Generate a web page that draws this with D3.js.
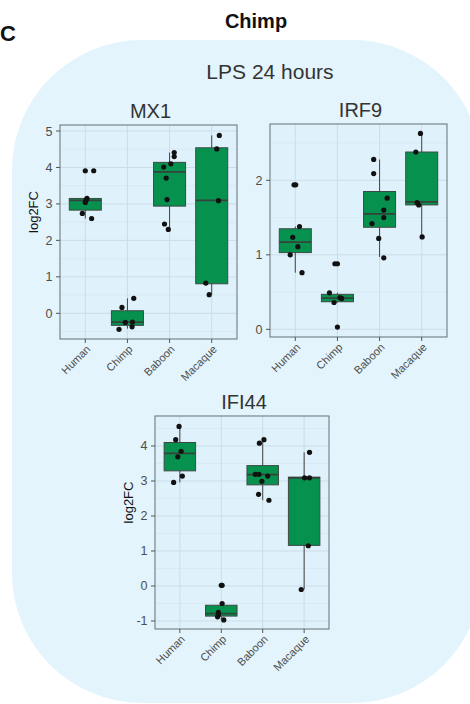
<!DOCTYPE html>
<html><head><meta charset="utf-8">
<script src="https://cdn.jsdelivr.net/npm/d3@7"></script>
<style>html,body{margin:0;padding:0;background:#fff;}svg{display:block;font-family:"Liberation Sans",Arial,sans-serif;}</style>
</head><body>
<svg id="c" width="470" height="704"></svg>
<script>
const categories = ["Human","Chimp","Baboon","Macaque"];

// MX1
const mx1Values = [
  [3.91,3.91,3.15,3.11,3.04,2.74,2.60],
  [0.16,0.41,-0.25,-0.24,-0.37,-0.44],
  [4.41,4.30,4.10,4.01,3.71,3.12,2.45,2.30],
  [4.88,4.51,3.09,0.83,0.51]
];
const mx1Jitter = [
  [0,0.2,0.04,0.02,0,-0.07,0.15],
  [-0.13,0.15,-0.05,0.12,0.11,-0.2],
  [0.11,0.11,0.03,-0.14,-0.08,-0.06,-0.12,-0.03],
  [0.18,0.12,0.16,-0.14,-0.06]
];
// [lower whisker, q1, median, q3, upper whisker]
const mx1Box = [
  [2.60,2.83,3.10,3.15,3.15],
  [-0.42,-0.33,-0.24,0.07,0.41],
  [2.30,2.94,3.88,4.14,4.41],
  [0.51,0.81,3.10,4.54,4.88]
];
const mx1Ticks = [0,1,2,3,4,5];

// IRF9
const irf9Values = [
  [1.94,1.94,1.38,1.235,1.11,1.00,0.76],
  [0.88,0.88,0.49,0.425,0.415,0.36,0.03],
  [2.28,2.09,1.76,1.60,1.50,1.42,1.22,0.96],
  [2.63,2.38,1.70,1.67,1.24]
];
const irf9Jitter = [
  [-0.03,0.01,0.1,-0.06,0.06,-0.12,0.16],
  [-0.06,0,-0.19,0.06,0.1,-0.08,0],
  [-0.14,-0.14,0.18,0.1,0.1,-0.18,-0.02,0.1],
  [-0.03,-0.14,-0.11,-0.07,0.01]
];
const irf9Box = [
  [0.76,1.03,1.17,1.35,1.38],
  [0.36,0.37,0.42,0.47,0.49],
  [0.97,1.37,1.55,1.85,2.28],
  [1.24,1.67,1.71,2.38,2.63]
];
const irf9Ticks = [0,1,2];

// IFI44
const ifi44Values = [
  [4.56,4.18,3.85,3.69,3.14,2.96],
  [0.02,0.02,-0.50,-0.75,-0.82,-0.88,-0.97],
  [4.08,4.18,3.19,3.19,3.14,2.99,2.62,2.45],
  [3.82,3.09,3.09,1.15,-0.10]
];
const ifi44Jitter = [
  [-0.02,-0.1,0.03,-0.05,0.06,-0.15],
  [0,0.02,0.02,-0.07,-0.07,-0.09,0.06],
  [-0.08,0.03,-0.18,-0.09,0.12,-0.02,-0.1,0.15],
  [0.13,0.01,0.13,0.1,-0.07]
];
const ifi44Box = [
  [2.96,3.29,3.79,4.10,4.56],
  [-0.97,-0.86,-0.79,-0.55,-0.50],
  [2.45,2.89,3.18,3.44,4.18],
  [-0.10,1.16,3.09,3.11,3.82]
];
const ifi44Ticks = [-1,0,1,2,3,4];

const svg = d3.select("#c");

// background rounded shape
svg.append("rect").attr("x",12).attr("y",40).attr("width",470).attr("height",663)
  .attr("rx",130).attr("ry",130).attr("fill","#e3f4fc");

svg.append("text").attr("x",0).attr("y",41).attr("font-size",22).attr("font-weight","bold").attr("fill","#111").text("C");
svg.append("text").attr("x",256).attr("y",28).attr("text-anchor","middle").attr("font-size",20).attr("font-weight","bold").attr("fill","#111").text("Chimp");
svg.append("text").attr("x",270).attr("y",79).attr("text-anchor","middle").attr("font-size",21).attr("fill","#333").text("LPS 24 hours");

function panel(o){
  const {x0,x1,y0,y1,domain,ticks,values,jitter,box,title,ylab} = o;
  const g = svg.append("g");
  const x = d3.scalePoint().domain(categories).range([x0,x1]).padding(0.6);
  const y = d3.scaleLinear().domain(domain).range([y1,y0]);
  const step = x.step();
  g.append("rect").attr("x",x0).attr("y",y0).attr("width",x1-x0).attr("height",y1-y0).attr("fill","#dff1fb");
  // minor grid
  const minor = d3.range(Math.ceil(domain[0]*2)/2, domain[1], 0.5).filter(v=>Math.abs(v-Math.round(v))>0.01);
  g.selectAll(".mn").data(minor).join("line").attr("x1",x0).attr("x2",x1)
    .attr("y1",d=>y(d)).attr("y2",d=>y(d)).attr("stroke","#d4e6f0").attr("stroke-width",0.6);
  g.selectAll(".mj").data(ticks).join("line").attr("x1",x0).attr("x2",x1)
    .attr("y1",d=>y(d)).attr("y2",d=>y(d)).attr("stroke","#cbdde8").attr("stroke-width",1);
  g.selectAll(".vg").data(categories).join("line").attr("y1",y0).attr("y2",y1)
    .attr("x1",d=>x(d)).attr("x2",d=>x(d)).attr("stroke","#cbdde8").attr("stroke-width",1);
  const bw = step*0.76;
  categories.forEach((c,i)=>{
    const b = box[i], cx = x(c);
    g.append("line").attr("x1",cx).attr("x2",cx).attr("y1",y(b[0])).attr("y2",y(b[4])).attr("stroke","#444").attr("stroke-width",1);
    g.append("rect").attr("x",cx-bw/2).attr("width",bw).attr("y",y(b[3])).attr("height",y(b[1])-y(b[3]))
      .attr("fill","#06914f").attr("stroke","#3d4a44").attr("stroke-width",1);
    g.append("line").attr("x1",cx-bw/2).attr("x2",cx+bw/2).attr("y1",y(b[2])).attr("y2",y(b[2])).attr("stroke","#34443c").attr("stroke-width",1.8);
    values[i].forEach((v,j)=>{
      g.append("circle").attr("cx",cx+jitter[i][j]*step).attr("cy",y(v)).attr("r",2.6).attr("fill","#111");
    });
  });
  g.append("rect").attr("x",x0).attr("y",y0).attr("width",x1-x0).attr("height",y1-y0).attr("fill","none").attr("stroke","#6f7a80").attr("stroke-width",1.1);
  // y axis
  ticks.forEach(t=>{
    g.append("line").attr("x1",x0-4).attr("x2",x0).attr("y1",y(t)).attr("y2",y(t)).attr("stroke","#555");
    g.append("text").attr("x",x0-7.5).attr("y",y(t)).attr("dy","0.36em").attr("text-anchor","end")
      .attr("font-size",12.5).attr("fill","#4d4d4d").text(t);
  });
  categories.forEach(c=>{
    g.append("line").attr("x1",x(c)).attr("x2",x(c)).attr("y1",y1).attr("y2",y1+4).attr("stroke","#555");
    g.append("text").attr("transform",`translate(${x(c)},${y1+5}) rotate(-45)`).attr("text-anchor","end")
      .attr("dy","0.75em").attr("font-size",11).attr("fill","#4d4d4d").text(c);
  });
  g.append("text").attr("x",(x0+x1)/2+2).attr("y",y0-7).attr("text-anchor","middle").attr("font-size",20).attr("fill","#333").text(title);
  if(ylab){
    g.append("text").attr("transform",`translate(${x0-22},${(y0+y1)/2-20}) rotate(-90)`).attr("text-anchor","middle")
      .attr("font-size",13).attr("fill","#111").text("log2FC");
  }
}

panel({x0:60,x1:237,y0:125,y1:339,domain:[-0.705,5.165],ticks:mx1Ticks,values:mx1Values,jitter:mx1Jitter,box:mx1Box,title:"MX1",ylab:true});
panel({x0:270,x1:447,y0:124,y1:337,domain:[-0.103,2.756],ticks:irf9Ticks,values:irf9Values,jitter:irf9Jitter,box:irf9Box,title:"IRF9",ylab:false});
panel({x0:155,x1:329,y0:416,y1:629,domain:[-1.229,4.857],ticks:ifi44Ticks,values:ifi44Values,jitter:ifi44Jitter,box:ifi44Box,title:"IFI44",ylab:true});
</script>
</body></html>
